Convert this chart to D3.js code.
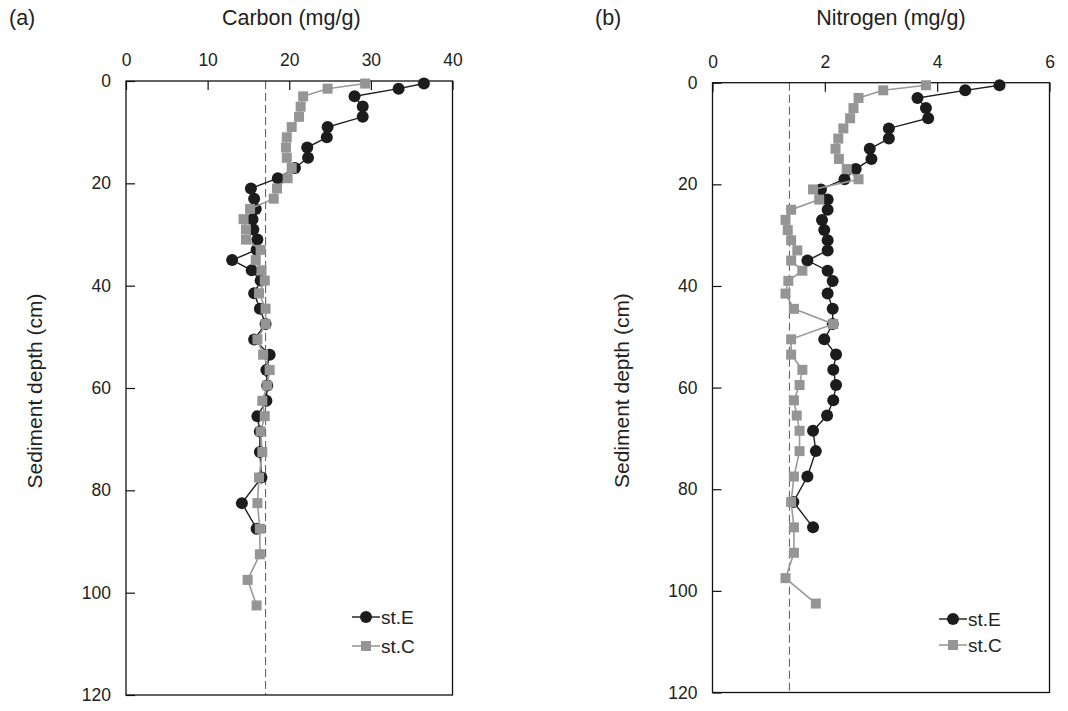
<!DOCTYPE html>
<html>
<head>
<meta charset="utf-8">
<script src="https://cdn.jsdelivr.net/npm/d3@7/dist/d3.min.js"></script>
<style>
  html, body { margin: 0; padding: 0; background: #fff; }
  svg { display: block; font-family: "Liberation Sans", Arial, sans-serif; }
</style>
</head>
<body>
<svg id="chart" width="1068" height="711"></svg>
<script>
// ---- data ----
const depths = [0.5,1.5,3,5,7,9,11,13,15,17,19,21,23,25,27,29,31,33,35,37,39,41.5,44.5,47.5,50.5,53.5,56.5,59.5,62.5,65.5,68.5,72.5,77.5,82.5,87.5,92.5,97.5,102.5];
const carbonE = [36.5,33.4,28.0,29.0,29.0,24.7,24.6,22.2,22.3,20.7,18.6,15.3,15.7,15.9,15.5,15.6,16.1,16.0,13.0,15.4,16.5,15.7,16.4,17.1,15.7,17.6,17.2,17.3,17.2,16.1,16.4,16.4,16.6,14.2,16.0];
const carbonC = [29.3,24.7,21.7,21.4,21.2,20.3,19.7,19.6,19.7,20.3,19.8,18.5,18.1,15.2,14.4,14.7,14.7,16.5,15.9,16.6,17.0,16.3,17.1,17.1,16.1,16.8,17.6,17.3,16.7,17.0,16.5,16.7,16.3,16.1,16.4,16.4,14.9,16.0];
const nitrogenE = [5.11,4.50,3.65,3.80,3.84,3.14,3.14,2.80,2.83,2.55,2.35,1.93,2.05,2.05,1.95,1.99,2.05,2.05,1.69,2.05,2.14,2.05,2.14,2.14,1.99,2.20,2.15,2.20,2.15,2.04,1.79,1.84,1.69,1.44,1.79];
const nitrogenC = [3.80,3.04,2.60,2.51,2.45,2.33,2.24,2.19,2.25,2.39,2.60,1.79,1.90,1.40,1.30,1.34,1.40,1.51,1.40,1.60,1.35,1.30,1.45,2.15,1.40,1.40,1.60,1.55,1.45,1.50,1.55,1.55,1.45,1.40,1.45,1.45,1.30,1.84];
const carbonTicks = [0,10,20,30,40];
const nitrogenTicks = [0,2,4,6];
const depthTicks = [0,20,40,60,80,100,120];
const carbonRef = 17.1;
const nitrogenRef = 1.37;
const seriesNames = ["st.E","st.C"];
const panelLabels = ["(a)","(b)"];
const panelTitles = ["Carbon (mg/g)","Nitrogen (mg/g)"];
const yTitle = "Sediment depth (cm)";

// ---- layout ----
const svg = d3.select("#chart");
const panels = [
  { left: 126, right: 452.5, top: 81, bottom: 695, xmax: 40, ticks: carbonTicks, E: carbonE, C: carbonC, ref: carbonRef,
    labelX: 9, titleDx: 2, legX: 366, legY: 617, legGap: 29 },
  { left: 712.5, right: 1049.5, top: 82.7, bottom: 692.5, xmax: 6, ticks: nitrogenTicks, E: nitrogenE, C: nitrogenC, ref: nitrogenRef,
    labelX: 595, titleDx: 10, legX: 953, legY: 619, legGap: 26 }
];
const colE = "#1c1c1c", colC = "#959595", lineC = "#9a9a9a";
const textCol = "#222";
const tickFont = 17.5, titleFont = 21.5, legFont = 19;

panels.forEach((p, i) => {
  const x = d3.scaleLinear().domain([0, p.xmax]).range([p.left, p.right]);
  const y = d3.scaleLinear().domain([0, 120]).range([p.top, p.bottom]);
  const g = svg.append("g");

  // reference dashed line
  g.append("line")
    .attr("x1", x(p.ref)).attr("x2", x(p.ref))
    .attr("y1", y(0)).attr("y2", y(120))
    .attr("stroke", "#666").attr("stroke-width", 1.1)
    .attr("stroke-dasharray", "8,4");

  // x axis (top)
  const xa = g.append("g").attr("transform", `translate(0,${p.top})`)
    .call(d3.axisTop(x).tickValues(p.ticks).tickFormat(d3.format("d"))
      .tickSizeInner(-9).tickSizeOuter(0).tickPadding(15));
  xa.select(".domain").remove();
  xa.selectAll("line").attr("stroke", "#111").attr("stroke-width", 1.2);
  xa.selectAll("text").attr("font-size", tickFont).attr("fill", textCol)
    .attr("font-family", "Liberation Sans, Arial, sans-serif");

  // y axis (left)
  const ya = g.append("g").attr("transform", `translate(${p.left},0)`)
    .call(d3.axisLeft(y).tickValues(depthTicks).tickFormat(d3.format("d"))
      .tickSizeInner(-9).tickSizeOuter(0).tickPadding(15));
  ya.select(".domain").remove();
  ya.selectAll("line").attr("stroke", "#111").attr("stroke-width", 1.2);
  ya.selectAll("text").attr("font-size", tickFont).attr("fill", textCol)
    .attr("font-family", "Liberation Sans, Arial, sans-serif");

  // frame
  g.append("rect")
    .attr("x", p.left).attr("y", p.top)
    .attr("width", p.right - p.left).attr("height", p.bottom - p.top)
    .attr("fill", "none").attr("stroke", "#111").attr("stroke-width", 1.3);

  // titles
  g.append("text").attr("x", (p.left + p.right) / 2 + p.titleDx).attr("y", 25)
    .attr("text-anchor", "middle").attr("font-size", titleFont).attr("fill", textCol)
    .text(panelTitles[i]);
  g.append("text").attr("x", p.labelX).attr("y", 25)
    .attr("font-size", titleFont).attr("fill", textCol).text(panelLabels[i]);
  g.append("text")
    .attr("transform", `translate(${p.left - 84},${(p.top + p.bottom) / 2 + 3}) rotate(-90)`)
    .attr("text-anchor", "middle").attr("font-size", 21).attr("fill", textCol)
    .text(yTitle);

  const line = d3.line().x(d => x(d[0])).y(d => y(d[1]));
  const ptsE = p.E.map((v, k) => [v, depths[k]]);
  const ptsC = p.C.map((v, k) => [v, depths[k]]);

  // st.E
  g.append("path").datum(ptsE).attr("d", line)
    .attr("fill", "none").attr("stroke", colE).attr("stroke-width", 1.4);
  g.selectAll(".ptE").data(ptsE).enter().append("circle")
    .attr("cx", d => x(d[0])).attr("cy", d => y(d[1])).attr("r", 6)
    .attr("fill", colE);

  // st.C
  g.append("path").datum(ptsC).attr("d", line)
    .attr("fill", "none").attr("stroke", lineC).attr("stroke-width", 1.6);
  g.selectAll(".ptC").data(ptsC).enter().append("rect")
    .attr("x", d => x(d[0]) - 5).attr("y", d => y(d[1]) - 5)
    .attr("width", 10).attr("height", 10)
    .attr("fill", colC);

  // legend
  seriesNames.forEach((name, k) => {
    const ly = p.legY + k * p.legGap;
    g.append("line").attr("x1", p.legX - 14).attr("x2", p.legX + 14)
      .attr("y1", ly).attr("y2", ly)
      .attr("stroke", k === 0 ? colE : lineC).attr("stroke-width", k === 0 ? 1.4 : 1.6);
    if (k === 0) {
      g.append("circle").attr("cx", p.legX).attr("cy", ly).attr("r", 6).attr("fill", colE);
    } else {
      g.append("rect").attr("x", p.legX - 5).attr("y", ly - 5).attr("width", 10).attr("height", 10).attr("fill", colC);
    }
    g.append("text").attr("x", p.legX + 15).attr("y", ly + 6.5)
      .attr("font-size", legFont).attr("fill", textCol).text(name);
  });
});
</script>
</body>
</html>
